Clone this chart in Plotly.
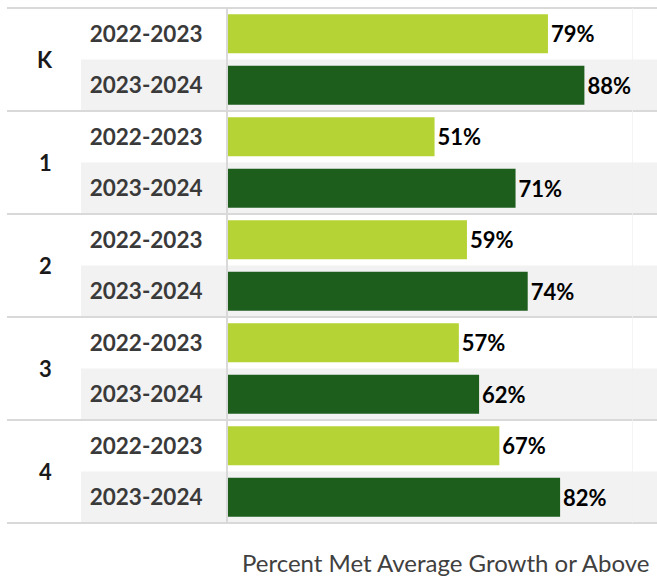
"""Horizontal grouped bar chart: percent of students meeting average growth by grade."""

import plotly.graph_objects as go

GRADES = ["K", "1", "2", "3", "4"]
YEARS = ["2022-2023", "2023-2024"]
PCT_2022_2023 = [79, 51, 59, 57, 67]
PCT_2023_2024 = [88, 71, 74, 62, 82]
AXIS_TITLE = "Percent Met Average Growth or Above"

LIGHT_GREEN = "#b5d334"
DARK_GREEN = "#1e5e1c"
BAND_GRAY = "#f2f2f2"
LINE_GRAY = "#d9d9d9"
FONT = "Lato, 'Open Sans', sans-serif"

# figure geometry (px) so paper coords for the label columns can be worked out
W, H = 657, 580
M_L, M_R, M_T, M_B = 228, 24, 8, 57
PLOT_W = W - M_L - M_R
PLOT_H = H - M_T - M_B


def px_to_paper_x(px):
    return (px - M_L) / PLOT_W


n_groups = len(GRADES)
n_rows = n_groups * len(YEARS)
rows_a = [2 * i for i in range(n_groups)]
rows_b = [2 * i + 1 for i in range(n_groups)]

fig = go.Figure()
for rows, vals, name, color in [
    (rows_a, PCT_2022_2023, YEARS[0], LIGHT_GREEN),
    (rows_b, PCT_2023_2024, YEARS[1], DARK_GREEN),
]:
    fig.add_trace(
        go.Bar(
            x=vals,
            y=rows,
            orientation="h",
            name=name,
            marker=dict(color=color, line=dict(width=0)),
            width=0.76,
            text=[f"{v}%" for v in vals],
            textposition="outside",
            textfont=dict(family=FONT, size=22, color="#000000", weight="bold"),
            cliponaxis=False,
            hoverinfo="skip",
        )
    )

shapes = []
# gray band behind the second year of each grade
for i in range(n_groups):
    y_top = 1 - (2 * i + 1) / n_rows
    y_bot = 1 - (2 * i + 2) / n_rows
    shapes.append(
        dict(
            type="rect", xref="paper", yref="paper",
            x0=px_to_paper_x(81), x1=px_to_paper_x(W),
            y0=y_bot, y1=y_top,
            fillcolor=BAND_GRAY, line=dict(width=0), layer="below",
        )
    )
# separators between grades
for k in range(n_groups + 1):
    y = 1 - k / n_groups
    shapes.append(
        dict(
            type="line", xref="paper", yref="paper",
            x0=px_to_paper_x(7), x1=px_to_paper_x(W),
            y0=y, y1=y,
            line=dict(color=LINE_GRAY, width=2), layer="below",
        )
    )
# faint line at 100%
shapes.append(
    dict(
        type="line", xref="x", yref="paper",
        x0=100, x1=100, y0=0, y1=1,
        line=dict(color="#f0f0f0", width=1.5), layer="below",
    )
)

annotations = []
for i, g in enumerate(GRADES):
    annotations.append(
        dict(
            text=g, xref="paper", yref="y",
            x=px_to_paper_x(45), y=2 * i + 0.5,
            xanchor="center", yanchor="middle", showarrow=False,
            font=dict(family=FONT, size=22, color="#1a1a1a", weight="bold"),
        )
    )
annotations.append(
    dict(
        text=AXIS_TITLE, xref="paper", yref="paper",
        x=px_to_paper_x(651), y=-(562 - (H - M_B)) / PLOT_H,
        xanchor="right", yanchor="middle", showarrow=False,
        font=dict(family=FONT, size=24, color="#404040"),
    )
)

fig.update_layout(
    width=W,
    height=H,
    margin=dict(l=M_L, r=M_R, t=M_T, b=M_B, pad=0),
    paper_bgcolor="white",
    plot_bgcolor="rgba(0,0,0,0)",
    showlegend=False,
    barmode="overlay",
    shapes=shapes,
    annotations=annotations,
    font=dict(family=FONT),
)
fig.update_xaxes(
    range=[0, 100],
    showgrid=False,
    zeroline=False,
    showticklabels=False,
    showline=False,
    fixedrange=True,
)
fig.update_yaxes(
    range=[n_rows - 0.5, -0.5],
    tickvals=rows_a + rows_b,
    ticktext=[YEARS[0]] * n_groups + [YEARS[1]] * n_groups,
    tickfont=dict(family=FONT, size=22.5, color="#3a3a3a", weight="bold"),
    ticks="",
    ticklabelstandoff=19,
    showgrid=False,
    zeroline=False,
    showline=True,
    linecolor=LINE_GRAY,
    linewidth=2,
    fixedrange=True,
)

# drop the browser's default body margin so the figure sits at the page corner
fig.write_html(
    "out.html",
    config={"displayModeBar": False},
    post_script="document.body.style.margin = '0';",
)
